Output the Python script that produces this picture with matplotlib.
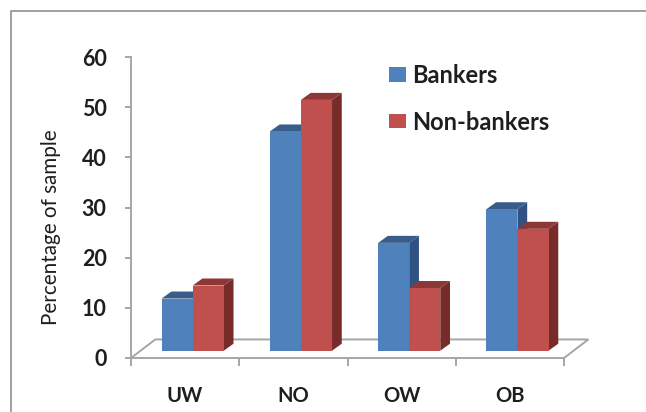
import matplotlib
matplotlib.use("Agg")
import matplotlib.pyplot as plt
from matplotlib.lines import Line2D
from matplotlib.patches import Patch, Polygon

plt.rcParams["font.family"] = ["Lato", "DejaVu Sans"]

categories = ["UW", "NO", "OW", "OB"]
bankers = [10.4, 43.7, 21.5, 28.2]
non_bankers = [13.0, 50.0, 12.5, 24.3]
y_ticks = [0, 10, 20, 30, 40, 50, 60]
series_names = ["Bankers", "Non-bankers"]

W, H = 646, 412
GREY = "#a6a6a6"
TEXT = "#1e1e1e"
# (front, top, side) shades per series
BLUE = ("#4f81bd", "#385d8a", "#2f5282")
RED = ("#c0504d", "#8c3836", "#772c2a")

# 3D-look geometry, in data units
BAR_W = 0.287
DEPTH_X = 0.09
DEPTH_Y = 1.4
LIFT = 1.45
GROUP_SHIFT = 0.07
FLOOR_X = 0.225
FLOOR_Y = 3.7

fig = plt.figure(figsize=(W / 100, H / 100), dpi=100, facecolor="white")
ax = fig.add_axes([131 / W, 1 - 358 / H, (564 - 131) / W, (358 - 57) / H])
ax.set_xlim(0, 4)
ax.set_ylim(0, 60)
ax.patch.set_visible(False)
for name in ("top", "right"):
    ax.spines[name].set_visible(False)
for name in ("left", "bottom"):
    ax.spines[name].set_color(GREY)
    ax.spines[name].set_linewidth(1.4)


def draw_bar(x0, value, shades):
    """Front, top and side faces of one extruded column."""
    x1 = x0 + BAR_W
    y0 = LIFT
    y1 = LIFT + value
    faces = [
        (shades[2], [(x1, y0), (x1 + DEPTH_X, y0 + DEPTH_Y),
                     (x1 + DEPTH_X, y1 + DEPTH_Y), (x1, y1)]),
        (shades[1], [(x0, y1), (x0 + DEPTH_X, y1 + DEPTH_Y),
                     (x1 + DEPTH_X, y1 + DEPTH_Y), (x1, y1)]),
        (shades[0], [(x0, y0), (x1, y0), (x1, y1), (x0, y1)]),
    ]
    for colour, pts in faces:
        ax.add_patch(Polygon(pts, closed=True, facecolor=colour,
                             edgecolor="none", clip_on=False, zorder=3))


# Floor outline behind the columns
ax.plot([0, FLOOR_X, 4 + FLOOR_X, 4], [0, FLOOR_Y, FLOOR_Y, 0],
        color=GREY, lw=1.4, clip_on=False, zorder=2, solid_joinstyle="miter")

for i in range(len(categories)):
    centre = i + 0.5 + GROUP_SHIFT
    draw_bar(centre - BAR_W, bankers[i], BLUE)
    draw_bar(centre, non_bankers[i], RED)

ax.set_yticks(y_ticks)
ax.set_xticks(range(len(categories) + 1))
ax.set_xticklabels([])
ax.set_xticks([i + 0.5 for i in range(len(categories))], minor=True)
ax.set_xticklabels(categories, minor=True, fontsize=14.5, fontweight="bold",
                   color=TEXT)
ax.tick_params(axis="x", which="major", length=6, width=1.4, color=GREY)
ax.tick_params(axis="x", which="minor", length=0, pad=20)
ax.tick_params(axis="y", length=4.5, width=1.4, color=GREY, pad=13,
               labelsize=15.5, labelcolor=TEXT)
for label in ax.get_yticklabels():
    label.set_fontweight("bold")

fig.text(51 / W, 1 - 227 / H, "Percentage of sample", rotation=90, ha="center",
         va="center", fontsize=14.9, color=TEXT)

ax.legend(
    handles=[Patch(facecolor=BLUE[0], label=series_names[0]),
             Patch(facecolor=RED[0], label=series_names[1])],
    loc="upper left", bbox_to_anchor=(389 / W, 1 - 64 / H),
    bbox_transform=fig.transFigure, frameon=False, borderpad=0, borderaxespad=0,
    handlelength=0.7, handleheight=0.56, handletextpad=0.3, labelspacing=1.0,
    prop={"size": 17, "weight": "bold"}, labelcolor=TEXT,
)

# Thin outer frame along the top and left of the picture
fig.add_artist(Line2D([11 / W, 11 / W, 1], [0, 1 - 11 / H, 1 - 11 / H],
                      transform=fig.transFigure, color="#a0a0a0", lw=1.4))

fig.savefig("out.png", dpi=100)
